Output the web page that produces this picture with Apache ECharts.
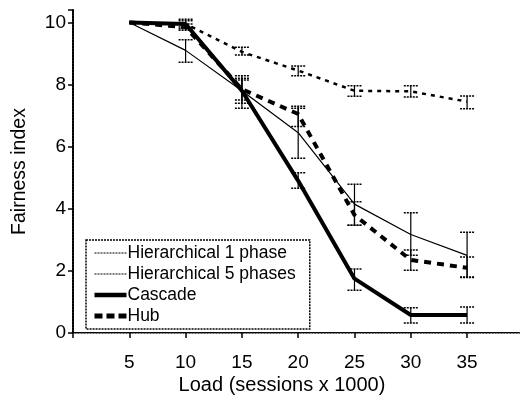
<!DOCTYPE html>
<html>
<head>
<meta charset="utf-8">
<script src="https://cdn.jsdelivr.net/npm/echarts@6/dist/echarts.min.js"></script>
<style>
  html, body { margin: 0; padding: 0; background: #fff; }
  #chart { width: 521px; height: 410px; }
</style>
</head>
<body>
<div id="chart"></div>
<script>
// load in thousands of sessions
var loads = [5, 10, 15, 20, 25, 30, 35];

var h1Mean = [10, 9.1, 7.8, 6.45, 4.15, 3.17, 2.5];
var h1Low = [10, 8.72, 7.4, 5.63, 3.47, 2.5, 1.8];
var h1High = [10, 9.44, 8.28, 7.24, 4.79, 3.87, 3.24];

var h5Mean = [10, 9.95, 9.05, 8.45, 7.8, 7.78, 7.45];
var h5Low = [10, 9.8, 8.95, 8.28, 7.62, 7.6, 7.22];
var h5High = [10, 10.1, 9.2, 8.6, 7.96, 7.96, 7.63];

var cascadeMean = [10, 9.95, 7.8, 4.9, 1.75, 0.58, 0.58];
var cascadeLow = [10, 9.85, 7.5, 4.66, 1.38, 0.32, 0.32];
var cascadeHigh = [10, 10.05, 8.15, 5.16, 2.06, 0.81, 0.84];

var hubMean = [10, 9.85, 7.85, 7.05, 3.8, 2.35, 2.1];
var hubLow = [10, 9.75, 7.24, 6.65, 3.47, 2.02, 1.79];
var hubHigh = [10, 9.95, 8.2, 7.3, 4.23, 2.67, 2.45];

var yTicks = [0, 2, 4, 6, 8, 10];

var font = '"Liberation Sans", Arial, sans-serif';

function pairs(ys) {
    return loads.map(function (x, i) { return [x, ys[i]]; });
}

// error bar rows [x, low, high], skipping zero-width ones
var errData = [];
[[h1Low, h1High], [h5Low, h5High], [cascadeLow, cascadeHigh], [hubLow, hubHigh]].forEach(function (g) {
    loads.forEach(function (x, i) {
        if (g[1][i] - g[0][i] > 0.01) errData.push([x, g[0][i], g[1][i]]);
    });
});

function renderErr(params, api) {
    var x = api.value(0);
    var top = api.coord([x, api.value(2)]);
    var bot = api.coord([x, api.value(1)]);
    var w = 7;
    var capStyle = { stroke: '#000', lineWidth: 1.5, lineDash: [2, 1] };
    return {
        type: 'group',
        children: [
            { type: 'line', shape: { x1: top[0], y1: top[1], x2: bot[0], y2: bot[1] }, style: { stroke: '#000', lineWidth: 1.2 } },
            { type: 'line', shape: { x1: top[0] - w, y1: top[1], x2: top[0] + w, y2: top[1] }, style: capStyle },
            { type: 'line', shape: { x1: bot[0] - w, y1: bot[1], x2: bot[0] + w, y2: bot[1] }, style: capStyle }
        ]
    };
}

var chart = echarts.init(document.getElementById('chart'));

var option = {
    animation: false,
    backgroundColor: '#fff',
    grid: { left: 73, right: 1, top: 10, bottom: 77 },
    legend: {
        data: [
            { name: 'Hierarchical 1 phase', lineStyle: { width: 1.2, type: [2, 1] } },
            { name: 'Hierarchical 5 phases', lineStyle: { width: 1.2, type: [2, 1] } },
            { name: 'Cascade', lineStyle: { width: 4.5, type: 'solid' } },
            { name: 'Hub', lineStyle: { width: 5, type: [8, 4] } }
        ],
        orient: 'vertical',
        left: 86,
        top: 240,
        padding: [4, 14, 4, 6],
        itemWidth: 32,
        itemHeight: 14,
        itemGap: 3,
        itemStyle: { opacity: 0 },
        borderColor: '#000',
        borderWidth: 1.5,
        borderType: [2, 1],
        backgroundColor: '#fff',
        textStyle: { fontFamily: font, fontSize: 17.5, color: '#000', lineHeight: 16, padding: [0, 0, 0, -4] }
    },
    xAxis: [{
        type: 'value',
        min: 0,
        max: 39.7,
        interval: 5,
        name: 'Load (sessions x 1000)',
        nameLocation: 'middle',
        nameGap: 42,
        nameMoveOverlap: false,
        nameTextStyle: { fontFamily: font, fontSize: 20, color: '#000', padding: [0, 29, 0, 0] },
        axisLine: { onZero: false, lineStyle: { color: '#000', width: 2, type: [2, 1] } },
        axisTick: { length: 5, lineStyle: { color: '#000', width: 1.5 } },
        axisLabel: {
            margin: 20,
            fontFamily: font, fontSize: 19, color: '#000',
            showMaxLabel: false,
            formatter: function (v) { return (v > 0 && v < 39 && v % 5 === 0) ? String(v) : ''; }
        },
        splitLine: { show: false }
    }, {
        type: 'value',
        position: 'top',
        min: 0,
        max: 39.7,
        axisLine: { show: true, lineStyle: { color: '#999', width: 1, type: [2, 1] } },
        axisTick: { show: false },
        axisLabel: { show: false },
        splitLine: { show: false }
    }],
    yAxis: {
        type: 'value',
        min: 0,
        max: 10.4,
        interval: 2,
        name: 'Fairness index',
        nameLocation: 'middle',
        nameGap: 43,
        nameTextStyle: { fontFamily: font, fontSize: 19.5, color: '#000' },
        axisLine: { show: true, lineStyle: { color: '#000', width: 2, type: [2, 1] } },
        axisTick: { show: true, length: 5, lineStyle: { color: '#000', width: 1.5 } },
        axisLabel: {
            margin: 7,
            fontFamily: font, fontSize: 19, color: '#000',
            formatter: function (v) { return yTicks.indexOf(v) >= 0 ? String(v) : ''; }
        },
        splitLine: { show: false }
    },
    series: [
        {
            type: 'custom',
            name: 'err',
            renderItem: renderErr,
            encode: { x: 0, y: [1, 2] },
            data: errData,
            z: 1,
            silent: true
        },
        {
            name: 'Hierarchical 1 phase',
            type: 'line',
            data: pairs(h1Mean),
            symbol: 'none',
            lineStyle: { color: '#000', width: 1.2, type: 'solid' },
            itemStyle: { color: '#000' },
            z: 3
        },
        {
            name: 'Hierarchical 5 phases',
            type: 'line',
            data: pairs(h5Mean),
            symbol: 'none',
            lineStyle: { color: '#000', width: 2.5, type: [4, 5] },
            itemStyle: { color: '#000' },
            z: 3
        },
        {
            name: 'Cascade',
            type: 'line',
            data: pairs(cascadeMean),
            symbol: 'none',
            lineStyle: { color: '#000', width: 4, type: 'solid' },
            itemStyle: { color: '#000' },
            z: 4
        },
        {
            name: 'Hub',
            type: 'line',
            data: pairs(hubMean),
            symbol: 'none',
            lineStyle: { color: '#000', width: 4, type: [7, 6] },
            itemStyle: { color: '#000' },
            z: 4
        }
    ]
};

chart.setOption(option);
</script>
</body>
</html>
